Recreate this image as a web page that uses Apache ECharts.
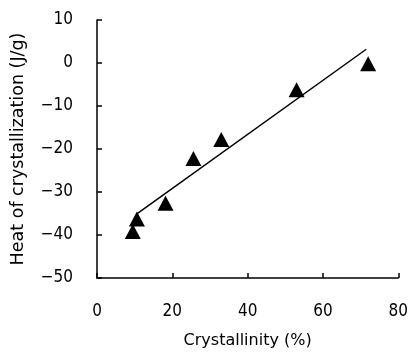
<!DOCTYPE html>
<html>
<head>
<meta charset="utf-8">
<script src="https://cdn.jsdelivr.net/npm/echarts@6/dist/echarts.min.js"></script>
<style>
  html, body { margin: 0; padding: 0; background: #fff; }
  #chart { width: 411px; height: 354px; }
</style>
</head>
<body>
<div id="chart"></div>
<script>
// measured points: crystallinity (%) vs heat of crystallization (J/g)
const crystallinity = [9.5, 10.6, 18.2, 25.6, 33, 53, 72]
const heat = [-39.2, -36.3, -32.6, -22.2, -17.8, -6.2, -0.2]
// fitted line end points
const fitX = [10.4, 71.5]
const fitY = [-35.2, 3.2]

const AXIS_COLOR = '#000'
const TICK_FONT = '"DejaVu Sans Condensed", "DejaVu Sans", sans-serif'
const NAME_FONT = '"DejaVu Sans", sans-serif'

const chart = echarts.init(document.getElementById('chart'))

const axisCommon = {
  axisLine: { show: true, onZero: false, lineStyle: { color: AXIS_COLOR, width: 1.5 } },
  axisTick: { show: true, inside: true, length: 5, lineStyle: { color: AXIS_COLOR, width: 1.5 } },
  splitLine: { show: false },
  axisLabel: {
    color: '#000', fontSize: 17, fontFamily: TICK_FONT, margin: 24,
    formatter: (v) => String(v).replace('-', '\u2212')
  }
}

chart.setOption({
  animation: false,
  grid: { left: 97, right: 10, top: 20, bottom: 76 },
  xAxis: {
    type: 'value',
    min: 0,
    max: 80,
    interval: 20,
    name: 'Crystallinity (%)',
    nameLocation: 'middle',
    nameGap: 55,
    nameTextStyle: { color: '#000', fontSize: 16, fontFamily: NAME_FONT },
    ...axisCommon,
    axisLabel: { ...axisCommon.axisLabel, margin: 25 }
  },
  yAxis: {
    type: 'value',
    min: -50,
    max: 10,
    interval: 10,
    name: 'Heat of crystallization (J/g)',
    nameLocation: 'middle',
    nameGap: 70,
    nameTextStyle: { color: '#000', fontSize: 17.5, fontFamily: NAME_FONT },
    ...axisCommon
  },
  series: [
    {
      type: 'line',
      data: fitX.map((x, i) => [x, fitY[i]]),
      showSymbol: false,
      lineStyle: { color: '#000', width: 1.5 },
      z: 2
    },
    {
      type: 'scatter',
      data: crystallinity.map((x, i) => [x, heat[i]]),
      symbol: 'triangle',
      symbolSize: [16, 15],
      itemStyle: { color: '#000', opacity: 1 },
      z: 3
    }
  ]
})
</script>
</body>
</html>
